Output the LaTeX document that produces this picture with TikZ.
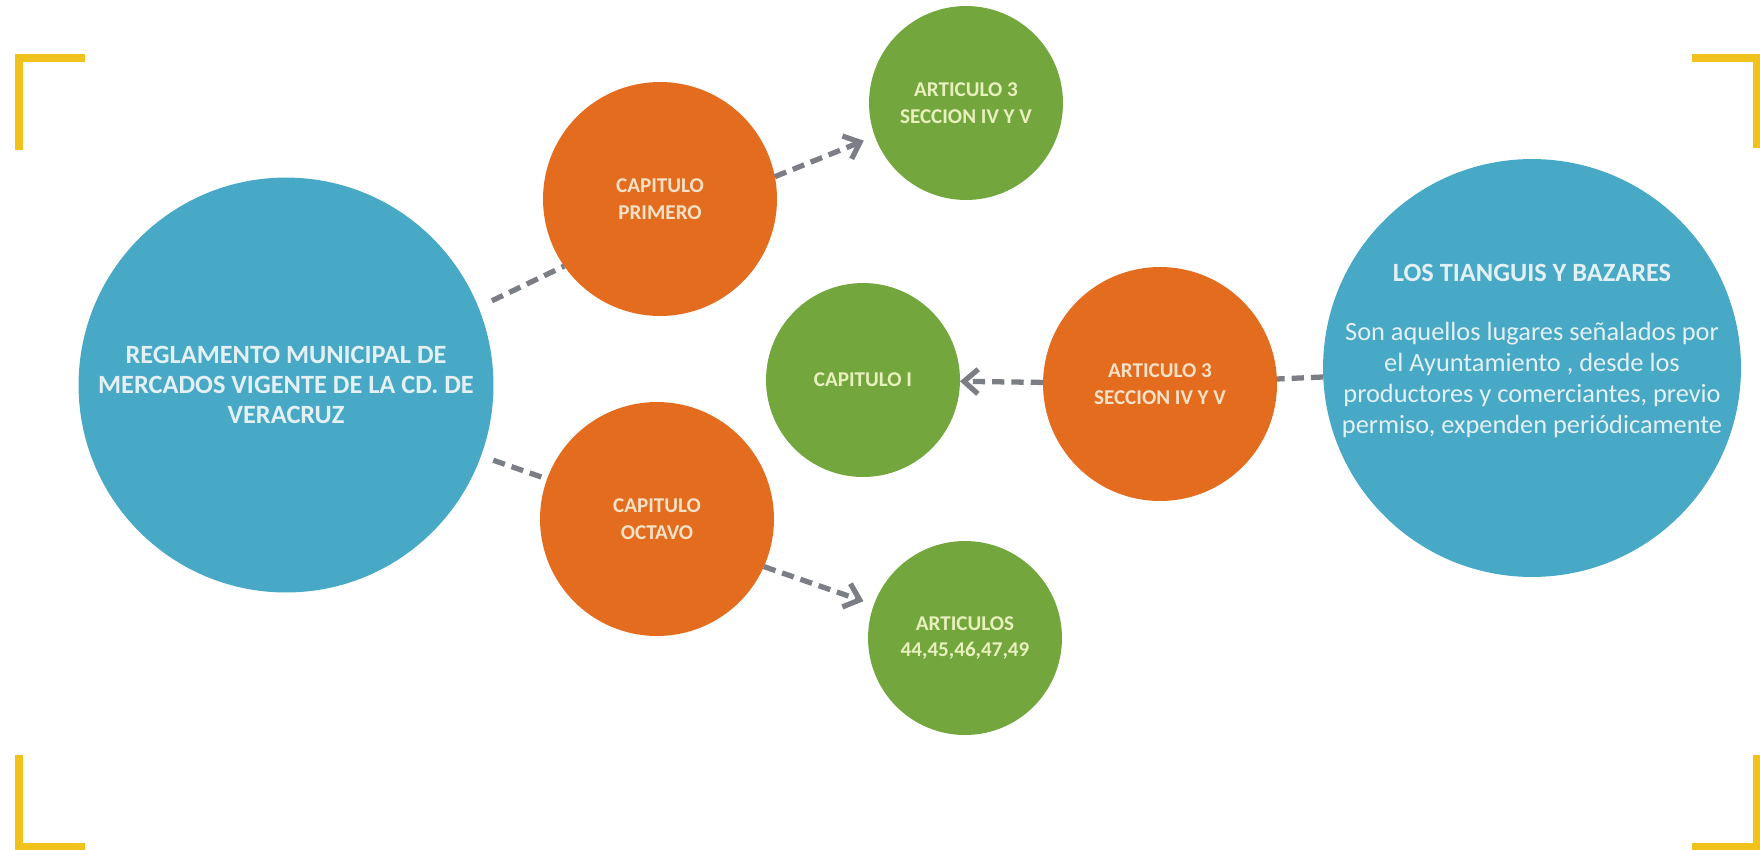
\documentclass[tikz,border=0pt]{standalone}
\usepackage{fontspec}
\setmainfont{Carlito}
\usetikzlibrary{arrows.meta}

\definecolor{cblue}{HTML}{47A9C6}
\definecolor{corange}{HTML}{E46C1E}
\definecolor{cgreen}{HTML}{73A73E}
\definecolor{cyellow}{HTML}{F1C11C}
\definecolor{cline}{HTML}{7C7E85}
\definecolor{tblue}{HTML}{E4F0F3}
\definecolor{torange}{HTML}{F6E2C8}
\definecolor{tgreen}{HTML}{E8F0BE}

\begin{document}
\begin{tikzpicture}[x=0.02cm,y=-0.02cm,inner sep=0pt,outer sep=0pt,
bigcirc/.style={circle,fill=cblue,text=tblue,minimum size=8.3cm,align=center,font=\bfseries\fontsize{15}{17}\selectfont},
midcirc/.style={circle,fill=corange,text=torange,minimum size=4.68cm,align=center,font=\bfseries\fontsize{12}{15}\selectfont},
smallcirc/.style={circle,fill=cgreen,text=tgreen,minimum size=3.88cm,align=center,font=\bfseries\fontsize{12}{15}\selectfont},
link/.style={draw=cline,line width=3pt,dash pattern=on 7pt off 4pt},
linkarrow/.style={link,-{Straight Barb[length=8pt,width=14pt]}},
corner/.style={draw=cyellow,line width=4pt}]

\useasboundingbox (0,0) rectangle (1760,849);

% frame corners
\draw[corner] (85,58) -- (19,58) -- (19,150);
\draw[corner] (1692,58) -- (1756,58) -- (1756,148);
\draw[corner] (19,755) -- (19,846) -- (85,846);
\draw[corner] (1756,755) -- (1756,846) -- (1692,846);

% circles
\draw (286,385) node[bigcirc] (reglamento) {REGLAMENTO MUNICIPAL DE\\MERCADOS VIGENTE DE LA CD. DE\\VERACRUZ};
\draw (660,199) node[midcirc] (primero) {CAPITULO\\PRIMERO};
\draw (657,519) node[midcirc] (octavo) {CAPITULO\\OCTAVO};
\draw (966,103) node[smallcirc] (art3a) {ARTICULO 3\\SECCION IV Y V};
\draw (863,380) node[smallcirc] (capI) {CAPITULO I};
\draw (965,638) node[smallcirc] (articulos) {ARTICULOS\\44,45,46,47,49};
\draw (1160,384) node[midcirc] (art3b) {ARTICULO 3\\SECCION IV Y V};
\draw (1532,368) node[bigcirc,minimum size=8.36cm] (tianguis) {};
\node[text=tblue,align=center,font=\fontsize{15}{17.6}\selectfont] (tianguistxt)
  at ([yshift=0.34cm]tianguis.center)
  {{\bfseries LOS TIANGUIS Y BAZARES}\\[16pt]
   Son aquellos lugares señalados por\\el Ayuntamiento , desde los\\
   productores y comerciantes, previo\\permiso, expenden periódicamente};

% connectors
\draw[link,shorten <=0.3cm] (reglamento.22) -- (primero.215);
\draw[link,shorten <=0.26cm] (reglamento.-20) -- (octavo.160);
\draw[linkarrow,shorten >=0.24cm] (primero.11) -- (art3a.200);
\draw[linkarrow,shorten >=0.22cm] (octavo.-24) -- (articulos.160);
\draw[linkarrow] (art3b) -- (capI);
\draw[link] (tianguis) -- (art3b);
\end{tikzpicture}
\end{document}
